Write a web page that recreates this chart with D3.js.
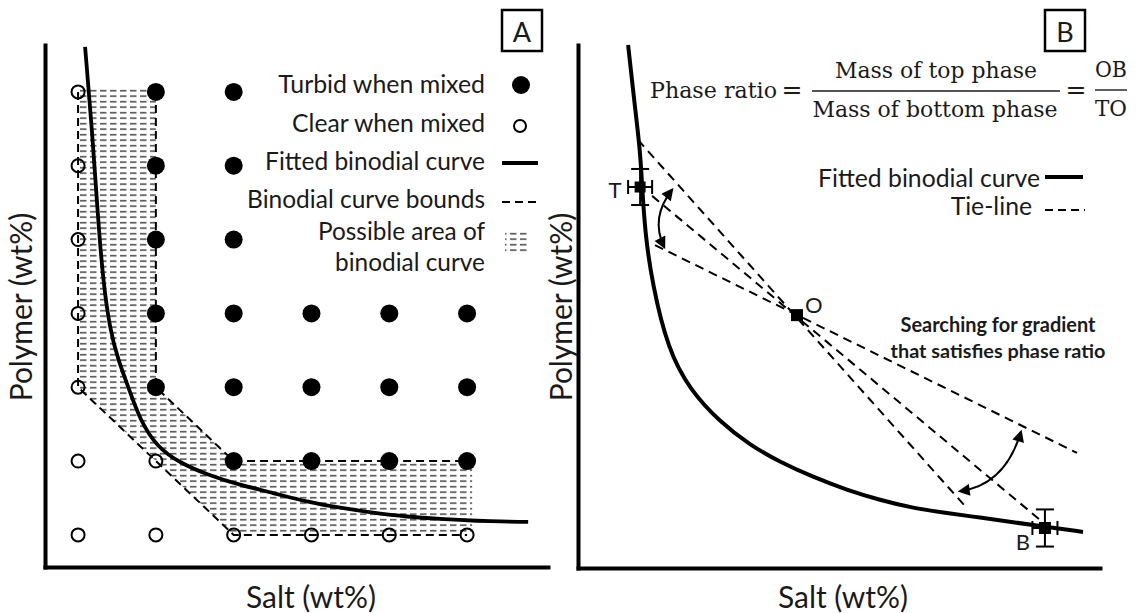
<!DOCTYPE html>
<html><head><meta charset="utf-8">
<script src="https://cdn.jsdelivr.net/npm/d3@7/dist/d3.min.js"></script>
<style>html,body{margin:0;padding:0;background:#fff;} svg{display:block}</style>
</head><body><svg id="chart" width="1143" height="613"></svg>
<script>
// ---------- Panel A: cloud-point screening grid (salt wt%, polymer wt%) ----------
const turbidPoints = [[4,14],[6,14],[4,12],[6,12],[4,10],[6,10],[4,8],[6,8],[8,8],[10,8],[12,8],
                      [4,6],[6,6],[8,6],[10,6],[12,6],[6,4],[8,4],[10,4],[12,4]];
const clearPoints  = [[2,14],[2,12],[2,10],[2,8],[2,6],[2,4],[4,4],[2,2],[4,2],[6,2],[8,2],[10,2],[12,2]];
const fittedCurveA = [[2.18,15.22],[2.36,12.97],[2.51,10.61],[2.64,8.91],[2.82,7.55],[3.03,6.74],
                      [3.29,6.01],[3.59,5.11],[4.03,4.38],[4.62,3.95],[5.32,3.63],[6.16,3.35],
                      [7.01,3.14],[7.89,2.89],[8.74,2.73],[9.58,2.60],[10.46,2.49],[11.31,2.43],
                      [12.15,2.38],[13.57,2.35]];
const upperBound   = [[4,14],[4,6],[6,4],[12,4]];
const lowerBound   = [[2,14],[2,6],[6,2],[12,2]];
const possibleArea = [[2,14.1],[4,14.1],[4,6],[6,4],[12.13,4],[12.13,2],[6,2],[2,6]];
const legendALabels = ["Turbid when mixed","Clear when mixed","Fitted binodial curve",
                       "Binodial curve bounds","Possible area of","binodial curve"];

// ---------- Panel B: tie-line search ----------
const fittedCurveB = [[1.92,20.0],[2.15,17.9],[2.38,15.98],[2.45,14.72],[2.57,12.81],[2.84,10.9],
                      [3.45,8.34],[4.29,6.81],[5.44,5.58],[6.59,4.70],[7.74,4.05],[9.00,3.48],
                      [10.31,2.98],[11.57,2.60],[12.84,2.29],[14.14,2.10],[15.40,1.93],
                      [16.67,1.75],[17.97,1.57],[19.35,1.38]];
const topPhase    = {name:"T", salt:2.38,  polymer:14.57, ds:0.46, dp:0.69};
const overall     = {name:"O", salt:8.39,  polymer:9.67};
const bottomPhase = {name:"B", salt:17.89, polymer:1.53,  ds:0.48, dp:0.71};
const tieLines = [
  [[2.30,16.37],[14.90,2.29]],
  [[2.84,14.23],[17.70,1.84]],
  [[2.95,12.35],[19.12,4.40]]
];
const searchArrows = [
  [[3.60,14.46],[2.76,13.38],[3.30,12.28]],
  [[16.97,5.20],[16.36,3.17],[14.64,2.94]]
];
const searchNote = ["Searching for gradient","that satisfies phase ratio"];
const legendBLabels = ["Fitted binodial curve","Tie-line"];

const INK = "#000", TXT = "#1a1a1a";
const SANS = "Lato, 'Open Sans', sans-serif";
const SERIF = "'DejaVu Serif', serif";

const svg = d3.select("#chart");

// scales
const xA = d3.scaleLinear().domain([1.15, 14.08]).range([45, 548]);
const yA = d3.scaleLinear().domain([1.13, 15.27]).range([567, 45]);
const xB = d3.scaleLinear().domain([0, 20]).range([578, 1100]);
const yB = d3.scaleLinear().domain([0, 20]).range([568, 45]);

const defs = svg.append("defs");
const hatch = defs.append("pattern").attr("id","hatch").attr("patternUnits","userSpaceOnUse")
  .attr("width",10).attr("height",5.5);
hatch.append("line").attr("x1",0).attr("x2",6.5).attr("y1",2.7).attr("y2",2.7)
  .attr("stroke",INK).attr("stroke-width",1.1);
defs.append("marker").attr("id","head").attr("viewBox","0 0 10 10")
  .attr("refX",8).attr("refY",5).attr("markerWidth",14).attr("markerHeight",12)
  .attr("markerUnits","userSpaceOnUse").attr("orient","auto-start-reverse")
  .append("path").attr("d","M0,0 L10,5 L0,10 Z").attr("fill",INK);

// fit a text's font size so that it spans the given width
function fit(sel, w){
  const len = sel.node().getComputedTextLength();
  const fs = parseFloat(sel.attr("font-size"));
  sel.attr("font-size", fs * w / len);
  return sel;
}
function txt(x, y, s, opts){
  const o = Object.assign({size:22, anchor:"start", font:SANS, weight:"normal"}, opts||{});
  const t = svg.append("text").attr("x",x).attr("y",y).text(s)
    .attr("font-family",o.font).attr("font-size",o.size).attr("font-weight",o.weight)
    .attr("text-anchor",o.anchor).attr("fill",TXT);
  if (o.width) fit(t, o.width);
  if (o.squeeze) t.attr("textLength", o.squeeze).attr("lengthAdjust","spacingAndGlyphs");
  return t;
}

// ---------- axes ----------
function frame(x, y, yPos, xPos){
  const gx = svg.append("g").attr("transform",`translate(0,${yPos})`)
    .call(d3.axisBottom(x).ticks(0).tickSizeOuter(0));
  const gy = svg.append("g").attr("transform",`translate(${xPos},0)`)
    .call(d3.axisLeft(y).ticks(0).tickSizeOuter(0));
  [gx,gy].forEach(g => g.select(".domain").attr("stroke",INK).attr("stroke-width",4)
    .attr("stroke-linecap","square"));
}
frame(xA, yA, 567, 45);
frame(xB, yB, 568, 578);

// ---------- Panel A ----------
const lineA = d3.line().x(d=>xA(d[0])).y(d=>yA(d[1]));
svg.append("path").attr("d", lineA(possibleArea) + "Z").attr("fill","url(#hatch)");
[upperBound, lowerBound].forEach(b => svg.append("path").attr("d", lineA(b))
  .attr("fill","none").attr("stroke",INK).attr("stroke-width",2).attr("stroke-dasharray","8,5"));
svg.append("path").attr("d", d3.line().x(d=>xA(d[0])).y(d=>yA(d[1])).curve(d3.curveBasis)(fittedCurveA))
  .attr("fill","none").attr("stroke",INK).attr("stroke-width",3.8);

svg.append("g").selectAll("circle").data(turbidPoints).join("circle")
  .attr("cx",d=>xA(d[0])).attr("cy",d=>yA(d[1])).attr("r",9).attr("fill",INK);
svg.append("g").selectAll("circle").data(clearPoints).join("circle")
  .attr("cx",d=>xA(d[0])).attr("cy",d=>yA(d[1])).attr("r",6.5)
  .attr("fill","none").attr("stroke",INK).attr("stroke-width",2);

// legend A
const legAy = [93,132,170,208,240,271], legAw = [207,193,220,238,167,150];
legendALabels.forEach((s,i) => txt(485, legAy[i], s, {anchor:"end", size:24, width:legAw[i]}));
svg.append("circle").attr("cx",521).attr("cy",85).attr("r",9).attr("fill",INK);
svg.append("circle").attr("cx",520).attr("cy",126).attr("r",6).attr("fill","none")
  .attr("stroke",INK).attr("stroke-width",2);
svg.append("line").attr("x1",502).attr("x2",538).attr("y1",163).attr("y2",163)
  .attr("stroke",INK).attr("stroke-width",4);
svg.append("line").attr("x1",502).attr("x2",540).attr("y1",202).attr("y2",202)
  .attr("stroke",INK).attr("stroke-width",2).attr("stroke-dasharray","8,5");
svg.append("rect").attr("x",505).attr("y",232).attr("width",25).attr("height",21).attr("fill","url(#hatch)");

// panel tags
[["A",502],["B",1045]].forEach(([s,x]) => {
  svg.append("rect").attr("x",x).attr("y",10).attr("width",40).attr("height",41)
    .attr("fill","none").attr("stroke",INK).attr("stroke-width",2.5);
  txt(x+20, 42, s, {anchor:"middle", size:27});
});

// axis titles
const salt1 = txt(311, 608, "Salt (wt%)", {anchor:"middle", size:28, width:130});
const axisSize = salt1.attr("font-size");
txt(843, 608, "Salt (wt%)", {anchor:"middle", size:axisSize});
[32, 572].forEach(x => svg.append("text").attr("transform",`translate(${x},307) rotate(-90)`)
  .attr("text-anchor","middle").attr("font-family",SANS).attr("font-size",axisSize)
  .attr("fill",TXT).text("Polymer (wt%)"));

// ---------- Panel B ----------
const lineB = d3.line().x(d=>xB(d[0])).y(d=>yB(d[1]));
tieLines.forEach(t => svg.append("path").attr("d", lineB(t)).attr("fill","none")
  .attr("stroke",INK).attr("stroke-width",2).attr("stroke-dasharray","9,6"));
svg.append("path").attr("d", d3.line().x(d=>xB(d[0])).y(d=>yB(d[1])).curve(d3.curveBasis)(fittedCurveB))
  .attr("fill","none").attr("stroke",INK).attr("stroke-width",4);

searchArrows.forEach(([a,c,b]) => svg.append("path")
  .attr("d",`M${xB(a[0])},${yB(a[1])} Q${xB(c[0])},${yB(c[1])} ${xB(b[0])},${yB(b[1])}`)
  .attr("fill","none").attr("stroke",INK).attr("stroke-width",2)
  .attr("marker-start","url(#head)").attr("marker-end","url(#head)"));

// composition points with error bars
function errorBars(p){
  const cx = xB(p.salt), cy = yB(p.polymer);
  const g = svg.append("g").attr("stroke",INK).attr("stroke-width",2);
  const y0 = yB(p.polymer + p.dp), y1 = yB(p.polymer - p.dp);
  const x0 = xB(p.salt - p.ds), x1 = xB(p.salt + p.ds);
  g.append("line").attr("x1",cx).attr("x2",cx).attr("y1",y0).attr("y2",y1);
  g.append("line").attr("x1",cx-9).attr("x2",cx+9).attr("y1",y0).attr("y2",y0);
  g.append("line").attr("x1",cx-9).attr("x2",cx+9).attr("y1",y1).attr("y2",y1);
  g.append("line").attr("x1",x0).attr("x2",x1).attr("y1",cy).attr("y2",cy);
  g.append("line").attr("x1",x0).attr("x2",x0).attr("y1",cy-7).attr("y2",cy+7);
  g.append("line").attr("x1",x1).attr("x2",x1).attr("y1",cy-7).attr("y2",cy+7);
}
errorBars(topPhase); errorBars(bottomPhase);
[[topPhase,11],[overall,12],[bottomPhase,12]].forEach(([p,s]) =>
  svg.append("rect").attr("x",xB(p.salt)-s/2).attr("y",yB(p.polymer)-s/2)
    .attr("width",s).attr("height",s).attr("fill",INK));
txt(xB(topPhase.salt)-25, yB(topPhase.polymer)+11, topPhase.name, {anchor:"middle", size:22});
txt(xB(overall.salt)+8, yB(overall.polymer)-2, overall.name, {size:22});
txt(xB(bottomPhase.salt)-22, yB(bottomPhase.polymer)+22, bottomPhase.name, {anchor:"middle", size:22});

// note
txt(998, 332, searchNote[0], {anchor:"middle", size:18, weight:"bold", width:195});
txt(998, 358, searchNote[1], {anchor:"middle", size:18, weight:"bold", width:215});

// legend B
const lb = txt(1040, 187, legendBLabels[0], {anchor:"end", size:24, width:222});
txt(1032, 215, legendBLabels[1], {anchor:"end", size:lb.attr("font-size")});
svg.append("line").attr("x1",1045).attr("x2",1083).attr("y1",177).attr("y2",177)
  .attr("stroke",INK).attr("stroke-width",4);
svg.append("line").attr("x1",1045).attr("x2",1085).attr("y1",210).attr("y2",210)
  .attr("stroke",INK).attr("stroke-width",2).attr("stroke-dasharray","8,5");

// phase ratio formula
txt(650, 98, "Phase ratio", {font:SERIF, size:23, squeeze:127});
txt(792, 98, "=", {font:SERIF, size:25, anchor:"middle"});
txt(936, 78, "Mass of top phase", {font:SERIF, size:23, anchor:"middle", squeeze:202});
txt(935, 117, "Mass of bottom phase", {font:SERIF, size:23, anchor:"middle", squeeze:245});
svg.append("line").attr("x1",812).attr("x2",1060).attr("y1",91).attr("y2",91)
  .attr("stroke",TXT).attr("stroke-width",1.4);
txt(1076, 98, "=", {font:SERIF, size:25, anchor:"middle"});
txt(1111, 77, "OB", {font:SERIF, size:23, anchor:"middle", squeeze:32});
txt(1111, 116, "TO", {font:SERIF, size:23, anchor:"middle", squeeze:32});
svg.append("line").attr("x1",1095).attr("x2",1127).attr("y1",90).attr("y2",90)
  .attr("stroke",TXT).attr("stroke-width",1.4);
</script></body></html>
